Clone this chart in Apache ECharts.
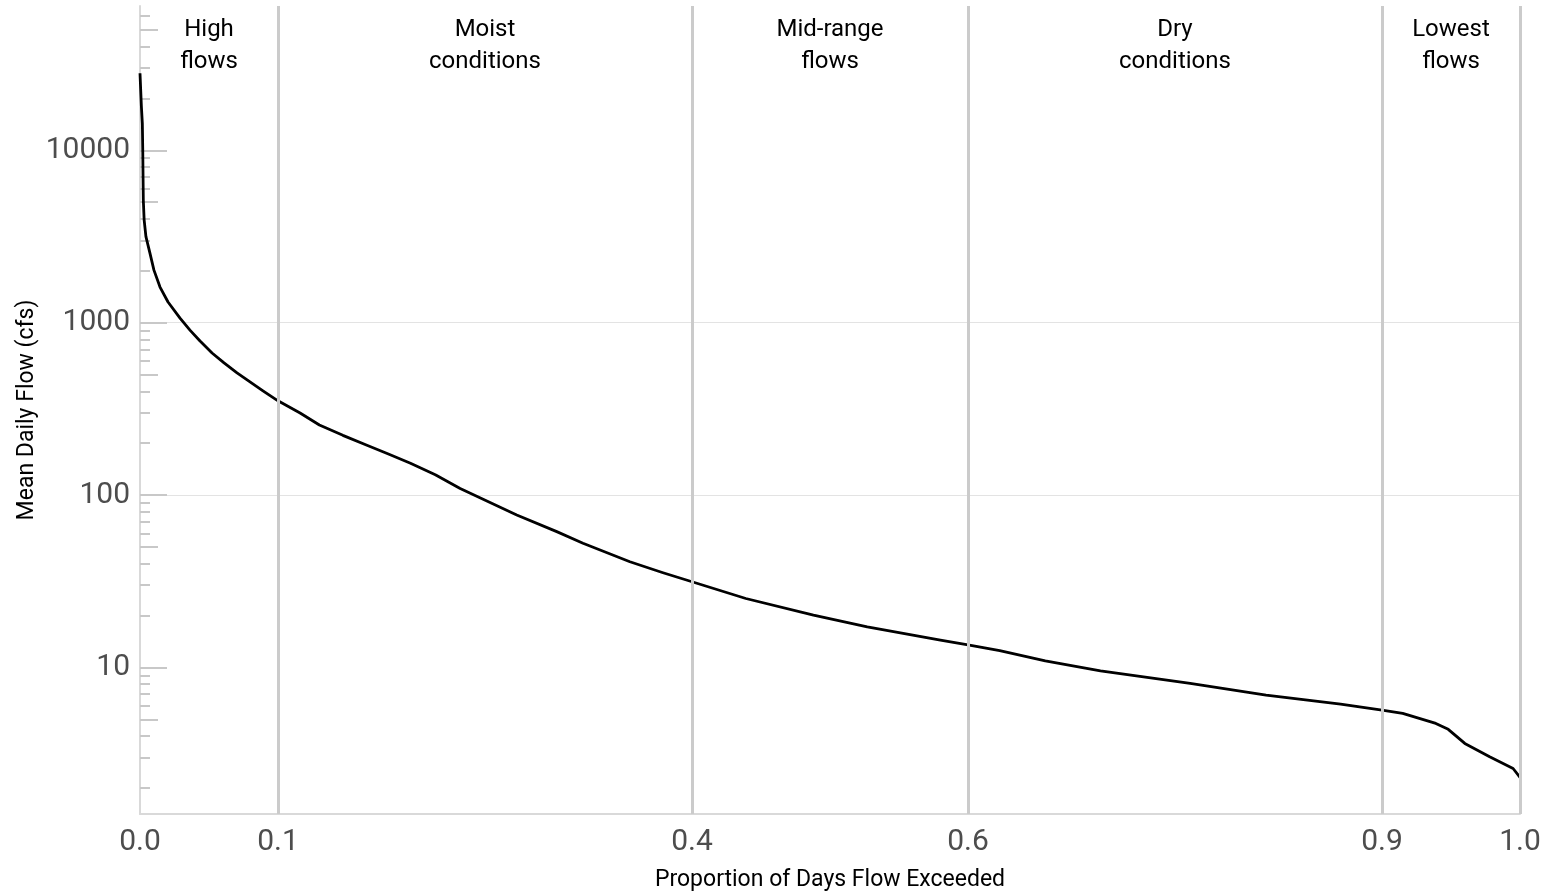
<!DOCTYPE html>
<html><head><meta charset="utf-8">
<script src="https://cdn.jsdelivr.net/npm/echarts@6/dist/echarts.min.js"></script>
<style>html,body{margin:0;padding:0;background:#fff}#chart{width:1548px;height:894px}</style>
</head><body><div id="chart"></div>
<script>
// Flow duration curve
const exceedance = [0, 0.001, 0.0017, 0.002, 0.0024, 0.003, 0.0043, 0.0072, 0.0101, 0.0145, 0.0203, 0.029, 0.0362, 0.0435, 0.0522, 0.0609, 0.0703, 0.0797, 0.0891, 0.1, 0.116, 0.130, 0.147, 0.164, 0.180, 0.196, 0.214, 0.232, 0.273, 0.302, 0.321, 0.355, 0.379, 0.4, 0.439, 0.488, 0.527, 0.580, 0.6, 0.623, 0.656, 0.696, 0.761, 0.816, 0.870, 0.9, 0.915, 0.939, 0.948, 0.960, 0.978, 0.995, 1.0];
const flow = [28000, 18000, 14350, 10000, 5150, 3950, 3160, 2535, 2018, 1610, 1318, 1064, 906, 783, 667, 584, 511, 453, 402, 352, 299, 255, 222, 195, 173, 153, 131, 109, 76.6, 61.3, 52.5, 41.0, 35.4, 31.4, 25.1, 20.1, 17.2, 14.4, 13.5, 12.5, 10.9, 9.55, 8.07, 6.90, 6.12, 5.65, 5.41, 4.73, 4.37, 3.62, 3.03, 2.59, 2.30];

const xTickValues = [0, 0.1, 0.4, 0.6, 0.9, 1.0];
const zoneBounds = [0, 0.1, 0.4, 0.6, 0.9, 1.0];
const zoneNames = ['High\nflows', 'Moist\nconditions', 'Mid-range\nflows', 'Dry\nconditions', 'Lowest\nflows'];
const yMajorTicks = [10, 100, 1000, 10000];
const yMidTicks = [5, 50, 500, 5000, 50000];
const yMinorTicks = [2, 3, 4, 6, 7, 8, 9, 20, 30, 40, 60, 70, 80, 90, 200, 300, 400, 600, 700, 800, 900, 2000, 3000, 4000, 6000, 7000, 8000, 9000, 20000, 30000, 40000, 60000];
const Y_MIN = 1.41, Y_MAX = 68800;

const tickColor = '#c8c8c8';
const labelFont = 'Roboto';
const chart = echarts.init(document.getElementById('chart'), null, {renderer: 'canvas'});

function yAx(ticks, len, main) {
  return {
    type: 'log', logBase: 10, min: Y_MIN, max: Y_MAX, position: 'left',
    axisLine: {show: main, onZero: false, lineStyle: {color: '#d9d9d9', width: 2}},
    axisTick: {show: true, inside: true, length: len, customValues: ticks, lineStyle: {color: tickColor, width: 2}},
    axisLabel: main ? {show: true, customValues: yMajorTicks, formatter: v => String(Math.round(v)),
      fontSize: 30, color: '#4d4d4d', margin: 10, fontFamily: labelFont} : {show: false},
    splitLine: main ? {show: true, showMinLine: false, showMaxLine: false, lineStyle: {color: '#e3e3e3', width: 1}} : {show: false},
    name: main ? 'Mean Daily Flow (cfs)' : '',
    nameLocation: 'middle', nameGap: 101, nameRotate: 90, nameMoveOverlap: false,
    nameTextStyle: {fontSize: 23, fontFamily: 'Roboto', color: '#000'}
  };
}

const option = {
  animation: false,
  backgroundColor: '#fff',
  grid: {left: 140, right: 28, top: 6, bottom: 80, outerBoundsMode: 'none', containLabel: false},
  xAxis: {
    type: 'value', min: 0, max: 1,
    axisLine: {show: true, onZero: false, lineStyle: {color: '#d9d9d9', width: 2}},
    axisTick: {show: false, customValues: xTickValues},
    axisLabel: {customValues: xTickValues, formatter: v => Number(v).toFixed(1), fontSize: 30, color: '#4d4d4d', margin: 13,
      showMinLabel: true, showMaxLabel: true, fontFamily: labelFont},
    splitLine: {show: false},
    name: 'Proportion of Days Flow Exceeded', nameLocation: 'middle', nameGap: 55, nameMoveOverlap: false,
    nameTextStyle: {fontSize: 23, fontFamily: 'Roboto', color: '#000'}
  },
  yAxis: [yAx(yMajorTicks, 27, true), yAx(yMidTicks, 18, false), yAx(yMinorTicks, 10, false)],
  series: [
    {
      type: 'line', data: [], z: 1, silent: true,
      markLine: {
        silent: true, symbol: 'none', label: {show: false},
        lineStyle: {color: '#cbcbcb', width: 3, type: 'solid'},
        data: zoneBounds.slice(1).map(v => ({xAxis: v}))
      }
    },
    {
      type: 'line', z: 3, showSymbol: false, symbol: 'none', smooth: false,
      data: exceedance.map((p, i) => [p, flow[i]]),
      lineStyle: {color: '#000', width: 2.8, join: 'round'}
    },
    {
      type: 'custom', z: 4, silent: true,
      data: zoneNames.map((n, i) => [(zoneBounds[i] + zoneBounds[i + 1]) / 2, Y_MAX]),
      renderItem: function (params, api) {
        const pt = api.coord([api.value(0), api.value(1)]);
        return {
          type: 'text', x: pt[0], y: pt[1] + 8,
          style: {text: zoneNames[params.dataIndex], fill: '#000', fontSize: 24, fontFamily: 'Roboto',
            align: 'center', verticalAlign: 'top', lineHeight: 32}
        };
      }
    }
  ]
};
chart.setOption(option);
</script></body></html>
